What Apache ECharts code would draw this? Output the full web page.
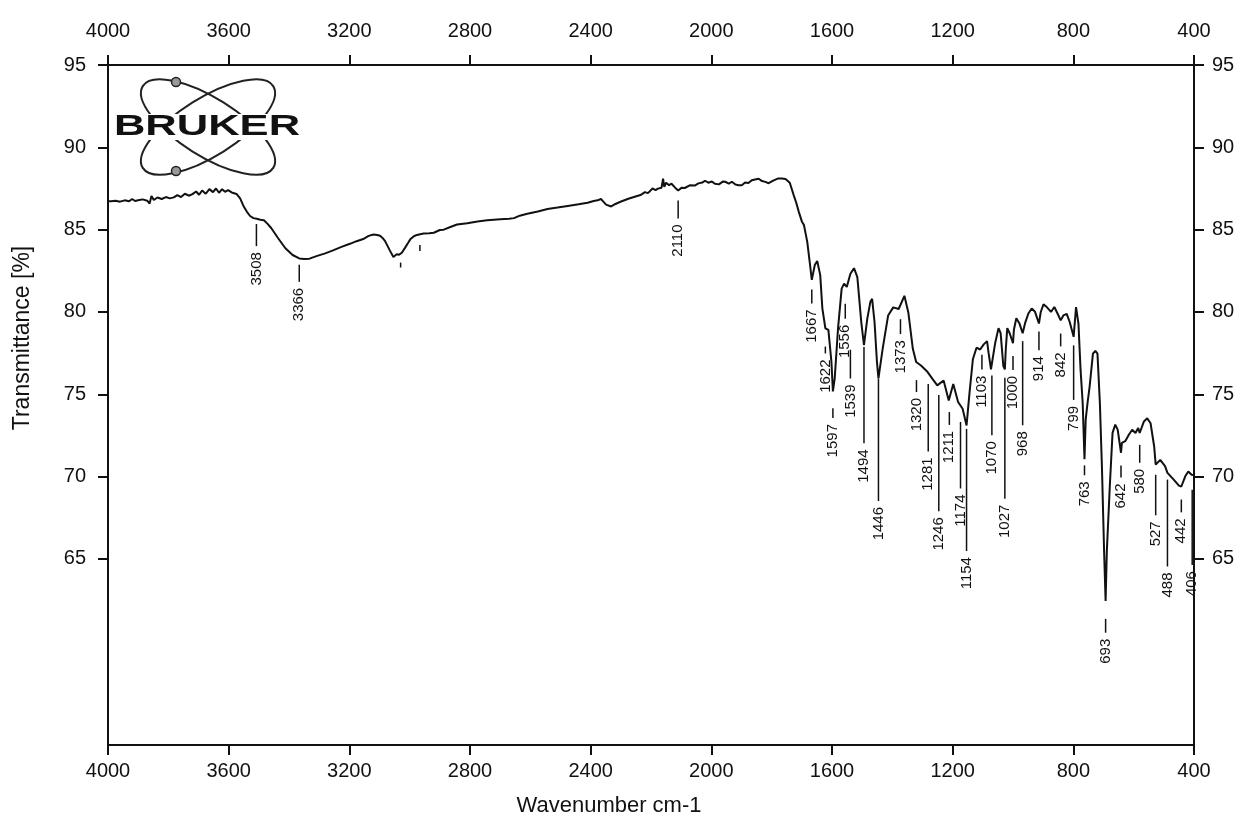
<!DOCTYPE html>
<html>
<head>
<meta charset="utf-8">
<title>IR spectrum</title>
<script src="https://cdn.jsdelivr.net/npm/echarts@6/dist/echarts.min.js"></script>
<style>
  html, body { margin: 0; padding: 0; background: #fff; }
  #chart { width: 1243px; height: 830px; }
</style>
</head>
<body>
<div id="chart"></div>
<script>
// spectrum: wavenumber (cm-1) / transmittance (%)
const wavenumber = [
  4000, 3990, 3975, 3960, 3945, 3930, 3920, 3910, 3900, 3885, 3870, 3862, 3856, 3848, 3836, 3822, 3808, 3795,
  3782, 3770, 3758, 3745, 3732, 3720, 3708, 3698, 3688, 3676, 3664, 3652, 3642, 3632, 3622, 3612, 3602, 3590,
  3574, 3562, 3551, 3540, 3529, 3518, 3507, 3495, 3483, 3471, 3459, 3436, 3412, 3388, 3366, 3350, 3332, 3309,
  3280, 3254, 3226, 3198, 3176, 3154, 3136, 3120, 3108, 3098, 3090, 3082, 3073, 3065, 3054, 3048, 3043, 3035,
  3026, 3015, 3005, 2998, 2986, 2976, 2954, 2935, 2920, 2900, 2887, 2865, 2843, 2809, 2775, 2743, 2700, 2670,
  2654, 2635, 2610, 2575, 2543, 2510, 2476, 2440, 2410, 2390, 2377, 2366, 2358, 2349, 2332, 2318, 2299, 2275,
  2254, 2235, 2220, 2210, 2195, 2185, 2177, 2165, 2160, 2156, 2150, 2140, 2132, 2120, 2110, 2098, 2088, 2070,
  2055, 2043, 2030, 2021, 2010, 1998, 1988, 1975, 1962, 1954, 1942, 1932, 1920, 1910, 1899, 1888, 1877, 1866,
  1855, 1843, 1832, 1821, 1810, 1795, 1780, 1766, 1754, 1740, 1727, 1718, 1710, 1700, 1693, 1682, 1674, 1667,
  1657, 1649, 1639, 1632, 1622, 1612, 1602, 1597, 1591, 1580, 1568, 1560, 1551, 1539, 1527, 1516, 1503, 1494,
  1483, 1473, 1467, 1459, 1451, 1446, 1432, 1414, 1397, 1379, 1360, 1347, 1332, 1321, 1305, 1283, 1267, 1251,
  1230, 1213, 1198, 1182, 1167, 1154, 1144, 1133, 1121, 1109, 1097, 1086, 1081, 1073, 1059, 1048, 1041, 1032,
  1027, 1024, 1019, 1011, 1000, 997, 989, 979, 968, 960, 949, 938, 927, 914, 908, 899, 888, 874,
  863, 852, 842, 833, 822, 812, 799, 791, 783, 776, 769, 763, 759, 753, 746, 735, 727, 720,
  712, 705, 698, 693, 689, 679, 670, 661, 653, 642, 639, 628, 616, 605, 594, 585, 580, 566,
  555, 544, 532, 527, 512, 496, 488, 468, 450, 442, 429, 419, 408, 400
];
const transmittance = [
  86.72, 86.72, 86.76, 86.70, 86.78, 86.72, 86.86, 86.74, 86.78, 86.84, 86.76, 86.58, 87.05, 86.80, 86.95, 86.86, 86.98, 86.90,
  86.96, 87.10, 86.98, 87.18, 87.06, 87.16, 87.32, 87.12, 87.38, 87.18, 87.46, 87.28, 87.50, 87.24, 87.46, 87.30, 87.40, 87.26,
  87.17, 86.90, 86.44, 86.10, 85.83, 85.70, 85.66, 85.60, 85.57, 85.35, 85.10, 84.48, 83.87, 83.46, 83.25, 83.22, 83.24, 83.39,
  83.56, 83.74, 83.95, 84.14, 84.30, 84.43, 84.62, 84.70, 84.68, 84.63, 84.50, 84.32, 84.00, 83.71, 83.34, 83.45, 83.51, 83.48,
  83.60, 83.91, 84.20, 84.41, 84.60, 84.68, 84.76, 84.78, 84.81, 84.98, 85.00, 85.16, 85.31, 85.39, 85.50, 85.57, 85.63, 85.66,
  85.70, 85.85, 85.96, 86.10, 86.25, 86.34, 86.44, 86.54, 86.63, 86.74, 86.78, 86.86, 86.70, 86.52, 86.41, 86.56, 86.71, 86.88,
  87.00, 87.10, 87.28, 87.22, 87.50, 87.40, 87.49, 87.55, 88.09, 87.60, 87.85, 87.70, 87.79, 87.55, 87.38, 87.55, 87.53, 87.70,
  87.68, 87.81, 87.86, 87.97, 87.85, 87.92, 87.79, 87.75, 87.92, 87.91, 87.80, 87.91, 87.74, 87.70, 87.70, 87.86, 87.83, 88.00,
  88.05, 88.09, 87.95, 87.90, 87.82, 87.98, 88.10, 88.11, 88.07, 87.85, 87.10, 86.60, 86.08, 85.50, 85.28, 84.26, 83.05, 81.95,
  82.85, 83.10, 82.24, 80.22, 79.01, 78.91, 76.99, 75.18, 75.97, 79.00, 81.42, 81.72, 81.52, 82.32, 82.66, 82.12, 79.39, 77.98,
  79.60, 80.60, 80.80, 79.39, 76.97, 75.97, 77.77, 79.78, 80.28, 80.18, 80.98, 79.97, 77.76, 76.96, 76.75, 76.35, 75.94, 75.54,
  75.84, 74.63, 75.62, 74.53, 74.12, 73.11, 75.12, 77.13, 77.83, 77.72, 78.03, 78.23, 77.53, 76.52, 78.12, 79.02, 78.72, 76.71,
  76.51, 77.71, 79.02, 78.71, 78.11, 78.92, 79.62, 79.32, 78.71, 79.32, 79.91, 80.21, 80.01, 79.30, 80.00, 80.46, 80.30, 80.00,
  80.30, 79.89, 79.49, 79.79, 79.89, 79.39, 78.49, 80.29, 79.29, 76.48, 74.47, 71.06, 73.47, 74.46, 75.47, 77.47, 77.63, 77.47,
  74.47, 70.46, 65.45, 62.45, 65.45, 69.46, 72.66, 73.16, 72.85, 71.45, 72.05, 72.15, 72.54, 72.85, 72.65, 72.95, 72.65, 73.35,
  73.54, 73.24, 71.83, 70.73, 71.02, 70.64, 70.23, 69.83, 69.45, 69.40, 70.02, 70.31, 70.11, 70.10
];

// peak picks: label, position, top and bottom of the marker line (%T)
const peakLabel = ['3508', '3366', '', '', '2110', '1667', '1622', '1597', '1556', '1539', '1494', '1446', '1373',
  '1320', '1281', '1246', '1211', '1174', '1154', '1103', '1070', '1027', '1000', '968', '914', '842', '799',
  '763', '693', '642', '580', '527', '488', '442', '406'];
const peakWn = [3508, 3366, 3030, 2966, 2110, 1667, 1622, 1597, 1556, 1539, 1494, 1446, 1373,
  1320, 1281, 1246, 1211, 1174, 1154, 1103, 1070, 1027, 1000, 968, 914, 842, 799,
  763, 693, 642, 580, 527, 488, 442, 406];
const peakTop = [85.34, 82.87, 83.0, 84.07, 86.77, 81.36, 77.9, 74.16, 80.5, 77.71, 77.88, 75.95, 79.56,
  75.86, 75.63, 74.95, 73.92, 73.32, 72.9, 77.4, 76.14, 76.01, 77.33, 78.23, 78.82, 78.69, 77.97,
  70.68, 61.36, 70.67, 71.93, 70.11, 69.82, 68.61, 69.2];
const peakBottom = [84.0, 81.83, 82.7, 83.7, 85.68, 80.52, 77.48, 73.56, 79.59, 75.96, 72.02, 68.52, 78.66,
  75.14, 71.53, 67.9, 73.14, 69.28, 65.48, 76.5, 72.52, 68.66, 76.48, 73.12, 77.68, 77.91, 74.66,
  70.08, 60.52, 69.95, 70.84, 67.65, 64.54, 67.83, 64.63];

const yTicks = [65, 70, 75, 80, 85, 90, 95];

const font = '"Liberation Sans", Arial, sans-serif';
const black = '#111';

const chart = echarts.init(document.getElementById('chart'));

function peakMarker(params, api) {
  const i = params.dataIndex;
  const top = api.coord([api.value(0), api.value(1)]);
  const bot = api.coord([api.value(0), api.value(2)]);
  const children = [{
    type: 'line',
    shape: { x1: top[0], y1: top[1], x2: bot[0], y2: bot[1] },
    style: { stroke: black, lineWidth: 1.5 }
  }];
  if (peakLabel[i]) {
    children.push({
      type: 'text',
      x: bot[0],
      y: bot[1] + 6,
      rotation: Math.PI / 2,
      style: {
        text: peakLabel[i],
        font: '15px ' + font,
        fill: black,
        align: 'right',
        textAlign: 'right',
        verticalAlign: 'middle',
        textVerticalAlign: 'middle'
      }
    });
  }
  return { type: 'group', children: children };
}

const axisLineStyle = { show: true, onZero: false, lineStyle: { color: black, width: 2 } };
const tickStyle = { show: true, length: 10, lineStyle: { color: black, width: 2 } };
const labelStyle = { color: black, fontSize: 20, fontFamily: font, formatter: v => String(v) };

const option = {
  animation: false,
  backgroundColor: '#fff',
  grid: { left: 108, right: 49, top: 65, bottom: 85 },
  xAxis: [
    {
      type: 'value', position: 'bottom', min: 400, max: 4000, interval: 400, inverse: true,
      axisLine: axisLineStyle, axisTick: tickStyle,
      axisLabel: Object.assign({ margin: 16 }, labelStyle),
      splitLine: { show: false },
      name: 'Wavenumber cm-1', nameLocation: 'middle', nameGap: 50,
      nameTextStyle: { color: black, fontSize: 22, fontFamily: font, padding: [0, 84, 0, 0] }
    },
    {
      type: 'value', position: 'top', min: 400, max: 4000, interval: 400, inverse: true,
      axisLine: axisLineStyle, axisTick: tickStyle,
      axisLabel: Object.assign({ margin: 24 }, labelStyle),
      splitLine: { show: false }
    }
  ],
  yAxis: [
    {
      type: 'value', position: 'left', min: 53.7, max: 95,
      axisLine: axisLineStyle,
      axisTick: Object.assign({ customValues: yTicks }, tickStyle),
      axisLabel: Object.assign({ margin: 22, customValues: yTicks }, labelStyle),
      splitLine: { show: false },
      name: 'Transmittance [%]', nameLocation: 'middle', nameGap: 74,
      nameTextStyle: { color: black, fontSize: 23, fontFamily: font, padding: [0, 0, 0, 134] }
    },
    {
      type: 'value', position: 'right', min: 53.7, max: 95,
      axisLine: axisLineStyle,
      axisTick: Object.assign({ customValues: yTicks }, tickStyle),
      axisLabel: Object.assign({ margin: 18, customValues: yTicks }, labelStyle),
      splitLine: { show: false }
    }
  ],
  graphic: [
    // Bruker logo
    { type: 'ellipse', x: 208, y: 127, rotation: 0.56, shape: { cx: 0, cy: 0, rx: 77, ry: 29 },
      style: { fill: 'none', stroke: '#222', lineWidth: 2 } },
    { type: 'ellipse', x: 208, y: 127, rotation: -0.56, shape: { cx: 0, cy: 0, rx: 77, ry: 29 },
      style: { fill: 'none', stroke: '#222', lineWidth: 2 } },
    { type: 'circle', shape: { cx: 176, cy: 82, r: 4.5 }, style: { fill: '#999', stroke: '#222', lineWidth: 1.5 } },
    { type: 'circle', shape: { cx: 176, cy: 171, r: 4.5 }, style: { fill: '#999', stroke: '#222', lineWidth: 1.5 } },
    { type: 'rect', shape: { x: 116, y: 114, width: 184, height: 26 }, style: { fill: '#fff' } },
    { type: 'text', x: 207, y: 127, scaleX: 1.5,
      style: { text: 'BRUKER', font: 'bold 29px ' + font, fill: black,
        align: 'center', textAlign: 'center', verticalAlign: 'middle', textVerticalAlign: 'middle' } }
  ],
  series: [
    {
      type: 'line',
      data: wavenumber.map((w, i) => [w, transmittance[i]]),
      symbol: 'none',
      lineStyle: { color: black, width: 2 },
      xAxisIndex: 0,
      yAxisIndex: 0
    },
    {
      type: 'custom',
      data: peakWn.map((w, i) => [w, peakTop[i], peakBottom[i]]),
      renderItem: peakMarker,
      xAxisIndex: 0,
      yAxisIndex: 0,
      clip: false
    }
  ]
};

chart.setOption(option);
</script>
</body>
</html>
